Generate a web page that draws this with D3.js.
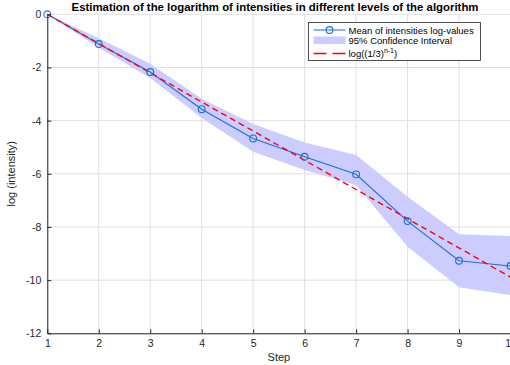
<!DOCTYPE html>
<html>
<head>
<meta charset="utf-8">
<script src="https://cdn.jsdelivr.net/npm/d3@7"></script>
<style>
  body { margin: 0; background: #fff; }
  svg { display: block; font-family: "Liberation Sans", Arial, sans-serif; }
</style>
</head>
<body>
<div id="chart"></div>
<script>
// values
const steps = [1, 2, 3, 4, 5, 6, 7, 8, 9, 10];
const meanLog = [0, -1.12, -2.17, -3.57, -4.67, -5.36, -6.02, -7.78, -9.27, -9.47];
const ciUpper = [0, -0.90, -1.86, -3.18, -4.13, -4.82, -5.29, -6.86, -8.27, -8.34];
const ciLower = [0, -1.26, -2.40, -3.90, -5.17, -5.86, -6.42, -8.74, -10.27, -10.56];
const theory = [0, -1.10, -2.20, -3.30, -4.39, -5.49, -6.59, -7.69, -8.79, -9.89];
const xTicks = [1, 2, 3, 4, 5, 6, 7, 8, 9, 10];
const yTicks = [0, -2, -4, -6, -8, -10, -12];

const W = 510, H = 365;
const margin = { top: 14.3, right: -0.5, bottom: 31.7, left: 47.3 };
const width = W - margin.left - margin.right;
const height = H - margin.top - margin.bottom;

const svg = d3.select('#chart').append('svg')
  .attr('width', W)
  .attr('height', H);

const g = svg.append('g')
  .attr('transform', `translate(${margin.left},${margin.top})`);

const x = d3.scaleLinear().domain([1, 10]).range([0, width]);
const y = d3.scaleLinear().domain([-12, 0]).range([height, 0]);

const ink = '#262626';

// grid
g.append('g').selectAll('line').data(xTicks).join('line')
  .attr('x1', d => x(d)).attr('x2', d => x(d))
  .attr('y1', 0).attr('y2', height)
  .attr('stroke', '#dfdfdf').attr('stroke-width', 1);
g.append('g').selectAll('line').data(yTicks).join('line')
  .attr('x1', 0).attr('x2', width)
  .attr('y1', d => y(d)).attr('y2', d => y(d))
  .attr('stroke', '#dfdfdf').attr('stroke-width', 1);

const data = steps.map((s, i) => ({ s, m: meanLog[i], lo: ciLower[i], hi: ciUpper[i], t: theory[i] }));

// confidence band
const band = d3.area()
  .x(d => x(d.s))
  .y0(d => y(d.lo))
  .y1(d => y(d.hi));
g.append('path')
  .datum(data)
  .attr('fill', '#ccccff')
  .attr('d', band);

// mean line
const meanLine = d3.line().x(d => x(d.s)).y(d => y(d.m));
g.append('path')
  .datum(data)
  .attr('fill', 'none')
  .attr('stroke', '#1a6fd6')
  .attr('stroke-width', 1.1)
  .attr('d', meanLine);

// theoretical line
const theoryLine = d3.line().x(d => x(d.s)).y(d => y(d.t));
g.append('path')
  .datum(data)
  .attr('fill', 'none')
  .attr('stroke', '#ff0000')
  .attr('stroke-width', 1.4)
  .attr('stroke-dasharray', '6,4')
  .attr('d', theoryLine);

// markers
g.append('g').selectAll('circle').data(data).join('circle')
  .attr('cx', d => x(d.s))
  .attr('cy', d => y(d.m))
  .attr('r', 3.4)
  .attr('fill', 'none')
  .attr('stroke', '#1a6fd6')
  .attr('stroke-width', 1.1);

// axes
const xAxis = g.append('g')
  .attr('transform', `translate(0,${height})`)
  .call(d3.axisBottom(x).tickValues(xTicks).tickFormat(d => String(d))
    .tickSizeInner(-4).tickSizeOuter(0).tickPadding(6));
const yAxis = g.append('g')
  .call(d3.axisLeft(y).tickValues(yTicks).tickFormat(d => String(d))
    .tickSizeInner(-4).tickSizeOuter(0).tickPadding(6));

[xAxis, yAxis].forEach(a => {
  a.select('.domain').attr('stroke', ink).attr('stroke-width', 1);
  a.selectAll('.tick line').attr('stroke', ink);
  a.selectAll('.tick text')
    .attr('fill', ink)
    .style('font-size', '10.5px')
    .style('font-family', '"Liberation Sans", Arial, sans-serif');
});

// axis labels
svg.append('text')
  .attr('x', margin.left + width / 2)
  .attr('y', 361)
  .attr('text-anchor', 'middle')
  .attr('fill', ink)
  .style('font-size', '11px')
  .text('Step');

svg.append('text')
  .attr('transform', `translate(15,${margin.top + height / 2}) rotate(-90)`)
  .attr('text-anchor', 'middle')
  .attr('fill', ink)
  .style('font-size', '11px')
  .text('log (intensity)');

// title
svg.append('text')
  .attr('x', 275)
  .attr('y', 11)
  .attr('text-anchor', 'middle')
  .attr('fill', '#000')
  .style('font-size', '11.4px')
  .style('font-weight', 'bold')
  .text('Estimation of the logarithm of intensities in different levels of the algorithm');

// legend
const leg = svg.append('g').attr('transform', 'translate(308.5,22.5)');
leg.append('rect')
  .attr('width', 172).attr('height', 38)
  .attr('fill', '#fff')
  .attr('stroke', ink).attr('stroke-width', 0.8);

const lx0 = 5, lx1 = 37, tx = 40;
// row 1
leg.append('line').attr('x1', lx0).attr('x2', lx1).attr('y1', 7.5).attr('y2', 7.5)
  .attr('stroke', '#1a6fd6').attr('stroke-width', 1.1);
leg.append('circle').attr('cx', (lx0 + lx1) / 2).attr('cy', 7.5).attr('r', 3.4)
  .attr('fill', 'none').attr('stroke', '#1a6fd6').attr('stroke-width', 1.1);
// row 2
leg.append('rect').attr('x', lx0).attr('y', 14).attr('width', lx1 - lx0).attr('height', 7.5)
  .attr('fill', '#ccccff');
// row 3
leg.append('line').attr('x1', lx0).attr('x2', lx1).attr('y1', 31).attr('y2', 31)
  .attr('stroke', '#ff0000').attr('stroke-width', 1.4).attr('stroke-dasharray', '13,6');

const legText = leg.append('g')
  .attr('fill', '#000')
  .style('font-size', '9.5px');
legText.append('text').attr('x', tx).attr('y', 11).text('Mean of intensities log-values');
legText.append('text').attr('x', tx).attr('y', 21).text('95% Confidence Interval');
const t3 = legText.append('text').attr('x', tx).attr('y', 34.5);
t3.append('tspan').text('log((1/3)');
t3.append('tspan').attr('dy', -4).style('font-size', '7px').text('n-1');
t3.append('tspan').attr('dy', 4).text(')');
</script>
</body>
</html>
